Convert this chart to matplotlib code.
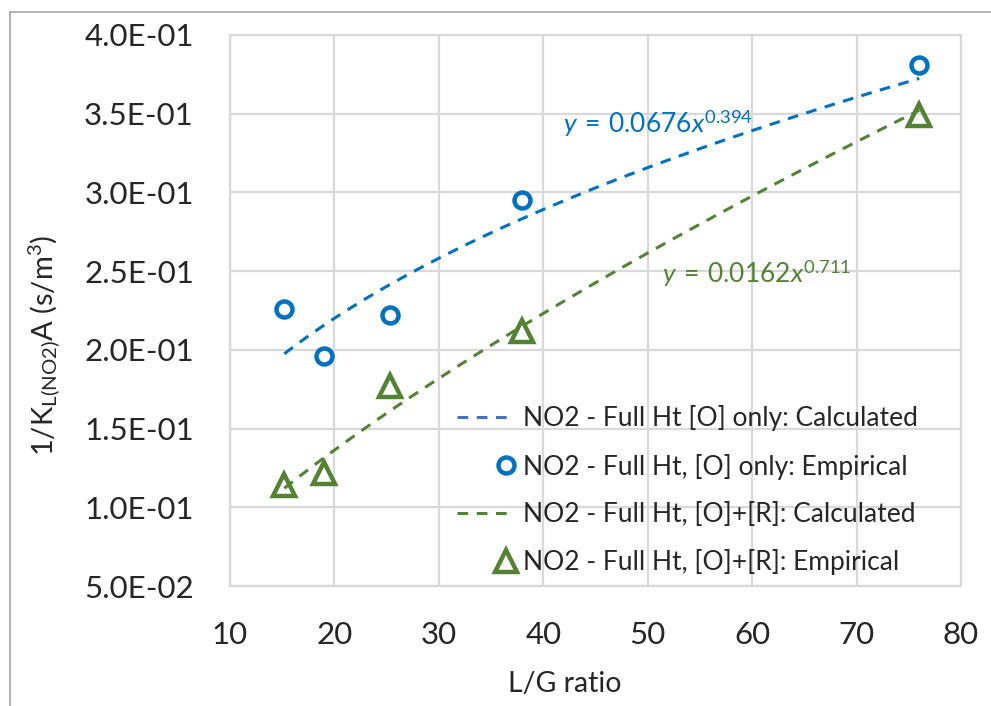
import numpy as np
import matplotlib
matplotlib.use("Agg")
import matplotlib.pyplot as plt
from matplotlib.lines import Line2D
from matplotlib.legend_handler import HandlerLine2D

plt.rcParams["font.family"] = ["Lato", "DejaVu Sans"]
plt.rcParams["mathtext.fontset"] = "custom"
plt.rcParams["mathtext.rm"] = "Lato"
plt.rcParams["mathtext.it"] = "Lato:italic"

# L/G ratio and measured 1/(K_L A) values
lg_ratio = [15.2, 19.0, 25.33, 38.0, 76.0]
o_only_emp = [0.226, 0.196, 0.222, 0.295, 0.381]
o_r_emp = [0.114, 0.122, 0.177, 0.212, 0.349]

# power-law fits y = a * x^b
fit_a = [0.0676, 0.0162]
fit_b = [0.394, 0.711]
fit_labels = [r"$\mathit{y\:=\:0.0676x}^{\mathit{0.394}}$",
              r"$\mathit{y\:=\:0.0162x}^{\mathit{0.711}}$"]

legend_labels = [
    "NO2 - Full Ht [O] only: Calculated",
    "NO2 - Full Ht, [O] only: Empirical",
    "NO2 - Full Ht, [O]+[R]: Calculated",
    "NO2 - Full Ht, [O]+[R]: Empirical",
]
y_ticks = [0.05, 0.10, 0.15, 0.20, 0.25, 0.30, 0.35, 0.40]
x_ticks = [10, 20, 30, 40, 50, 60, 70, 80]

BLUE = "#0070C0"
BLUE_LEG = "#4472C4"
GREEN = "#548235"
GRID = "#D9D9D9"
TEXT = "#262626"


class RightMarkerHandler(HandlerLine2D):
    """Legend handler that puts a lone marker at the right end of the key."""

    def create_artists(self, legend, orig_handle, xdescent, ydescent,
                       width, height, fontsize, trans):
        arts = super().create_artists(legend, orig_handle, xdescent, ydescent,
                                      width, height, fontsize, trans)
        xr = width - xdescent - 3.0
        for a in arts:
            n = len(a.get_xdata())
            a.set_xdata(np.full(n, xr))
        return arts


fig = plt.figure(figsize=(9.91, 7.06), dpi=100)
W, H = 991, 706
ax = fig.add_axes([230 / W, 1 - 586 / H, (961 - 230) / W, (586 - 35) / H])

# chart-area border
fig.add_artist(Line2D([10 / W, 10 / W], [0, 1 - 12 / H], color="#A6A6A6", lw=1.2))
fig.add_artist(Line2D([10 / W, 1], [1 - 12 / H, 1 - 12 / H], color="#A6A6A6", lw=1.2))

xs = np.linspace(min(lg_ratio), max(lg_ratio), 200)
ax.plot(xs, fit_a[0] * xs ** fit_b[0], color=BLUE, lw=2.2, dashes=(3.5, 2.8), zorder=3)
ax.plot(xs, fit_a[1] * xs ** fit_b[1], color=GREEN, lw=2.2, dashes=(3.5, 2.8), zorder=3)

ax.plot(lg_ratio, o_only_emp, ls="none", marker="o", ms=11.5, mfc="none",
        mec=BLUE, mew=3.2, zorder=4)
ax.plot(lg_ratio, o_r_emp, ls="none", marker="^", ms=15.5, mfc="none",
        mec=GREEN, mew=3.2, zorder=4)

ax.text(41.9, 0.338, fit_labels[0], color=BLUE, fontsize=19,
        va="baseline", ha="left", zorder=5)
ax.text(51.4, 0.2425, fit_labels[1], color=GREEN, fontsize=19,
        va="baseline", ha="left", zorder=5)

ax.set_xlim(10, 80)
ax.set_ylim(0.05, 0.40)
ax.set_xticks(x_ticks)
ax.set_yticks(y_ticks)
ax.set_yticklabels([f"{v:.1E}" for v in y_ticks])
ax.tick_params(length=0, labelsize=22.5, colors=TEXT)
ax.tick_params(axis="y", pad=26)
ax.tick_params(axis="x", pad=25)
ax.grid(True, color=GRID, lw=1.6)
ax.set_axisbelow(True)
for s in ax.spines.values():
    s.set_color(GRID)
    s.set_linewidth(1.6)

ax.set_xlabel("L/G ratio", fontsize=20.5, color=TEXT, va="center")
ax.xaxis.set_label_coords((565 - 230) / 731, (586 - 684) / 551)
ax.set_ylabel(r"1/K$_{\mathregular{L(NO2)}}$A (s/m$^{\mathregular{3}}$)",
              fontsize=21, color=TEXT, va="center")
ax.yaxis.set_label_coords((44 - 230) / 731, (586 - 345) / 551)

circ_key = Line2D([], [], ls="none", marker="o", ms=11.5, mfc="none", mec=BLUE, mew=3.2)
tri_key = Line2D([], [], ls="none", marker="^", ms=15.5, mfc="none", mec=GREEN, mew=3.2)
handles = [
    Line2D([], [], color=BLUE_LEG, lw=2.2, dashes=(3.5, 2.8)),
    circ_key,
    Line2D([], [], color=GREEN, lw=2.2, dashes=(3.5, 2.8)),
    tri_key,
]
leg = fig.legend(handles, legend_labels, loc="upper left",
                 bbox_to_anchor=(444 / W, 1 - 392 / H), frameon=False,
                 fontsize=19, handlelength=2.0, handletextpad=0.5,
                 labelspacing=0.85, borderpad=0, labelcolor=TEXT,
                 handler_map={circ_key: RightMarkerHandler(numpoints=1),
                              tri_key: RightMarkerHandler(numpoints=1)})

fig.savefig("out.png", dpi=100, facecolor="white")
